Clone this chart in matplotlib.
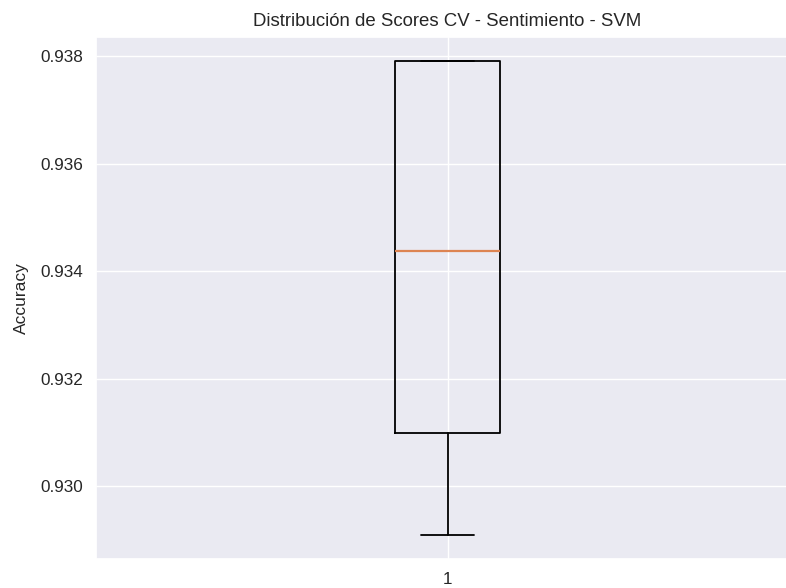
import matplotlib
matplotlib.use("Agg")
import matplotlib.pyplot as plt
import seaborn as sns

# ── Data: accuracy per CV fold ────────────────────────────────────────────────
cv_scores = [0.92908, 0.93098, 0.93438, 0.93791, 0.93792]
box_labels = ["1"]

# ── Style ─────────────────────────────────────────────────────────────────────
sns.set_theme(style="darkgrid")
plt.rcParams["font.family"] = ["Liberation Sans", "DejaVu Sans"]

fig = plt.figure(figsize=(7.86, 5.88), dpi=100)
ax = fig.add_axes([96 / 786, 1 - 559 / 588, 703 / 786, 522 / 588])

line = dict(linewidth=1.3)
ax.boxplot([cv_scores], widths=0.15, tick_labels=box_labels,
           boxprops=line, whiskerprops=line, capprops=line,
           medianprops=dict(linewidth=1.6))
ax.set_title("Distribución de Scores CV - Sentimiento - SVM", fontsize=13.4, pad=8)
ax.set_ylabel("Accuracy", fontsize=12.5, labelpad=8)
ax.tick_params(axis="both", labelsize=12.3)

fig.savefig("out.png", dpi=100)
